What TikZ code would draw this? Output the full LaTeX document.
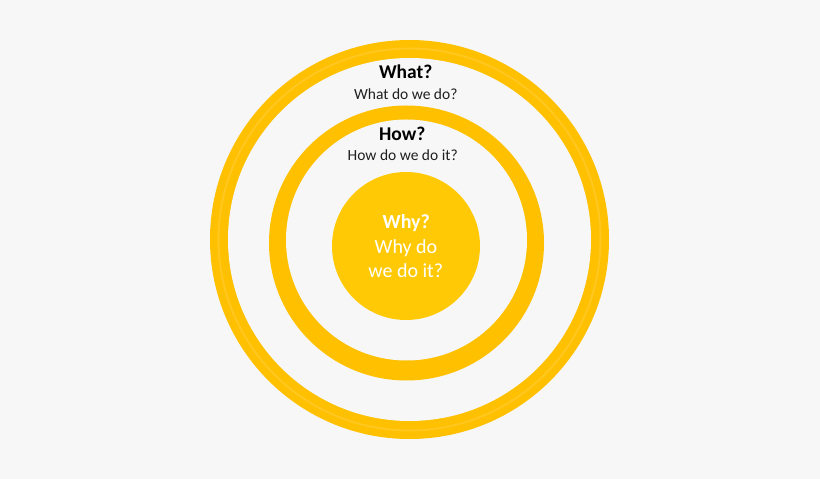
\documentclass[tikz,border=0pt]{standalone}
\usepackage{fontspec}
\setmainfont{Carlito}
\definecolor{myring}{HTML}{FFC000}
\definecolor{mycore}{HTML}{FFCA05}
\definecolor{mybg}{HTML}{F7F7F7}
\colorlet{mytext}{black!88}
\tikzset{
  ringDisc/.style={circle,fill=myring,inner sep=0pt,minimum size=#1},
  ringHole/.style={circle,fill=mybg,inner sep=0pt,minimum size=#1},
  coreDisc/.style={circle,fill=mycore,inner sep=0pt,minimum size=#1},
  ringStripe/.style={draw=white,opacity=0.12,line width=2bp},
  titleText/.style={anchor=base,inner sep=0pt,text=black,font=\fontsize{19.5bp}{23bp}\selectfont\bfseries},
  questionText/.style={anchor=base,inner sep=0pt,text=mytext,font=\fontsize{15.5bp}{18bp}\selectfont},
  coreTitle/.style={anchor=base,inner sep=0pt,text=white,font=\fontsize{20bp}{24bp}\selectfont\bfseries},
  coreText/.style={anchor=base,inner sep=0pt,text=white,font=\fontsize{20bp}{24bp}\selectfont},
}
\begin{document}
\begin{tikzpicture}[x=1bp,y=-1bp]
  \fill[mybg] (0,0) rectangle (820,479);
  \useasboundingbox (0,0) rectangle (820,479);

  % outer ring
  \node[ringDisc=399bp] at (409.5,239.5) (whatRing) {};
  \node[ringHole=363bp] at (409.5,239.5) (whatHole) {};
  \draw[ringStripe] (whatRing.center) circle (191);

  % middle ring
  \node[ringDisc=275bp] at (406.5,243) (howRing) {};
  \node[ringHole=241bp] at (406.5,240) (howHole) {};

  % core
  \node[coreDisc=148bp] at (406,246) (whyCore) {};

  \node[titleText] at (405.7,79) (whatTitle) {What?};
  \node[questionText] at (405.8,100) (whatText) {What do we do?};
  \node[titleText] at (402.3,141) (howTitle) {How?};
  \node[questionText] at (402.7,160.5) (howText) {How do we do it?};

  \node[coreTitle] at (406.3,229) (whyTitle) {Why?};
  \node[coreText] at (406,254) (whyText1) {Why do};
  \node[coreText] at (405.8,278) (whyText2) {we do it?};
\end{tikzpicture}
\end{document}
